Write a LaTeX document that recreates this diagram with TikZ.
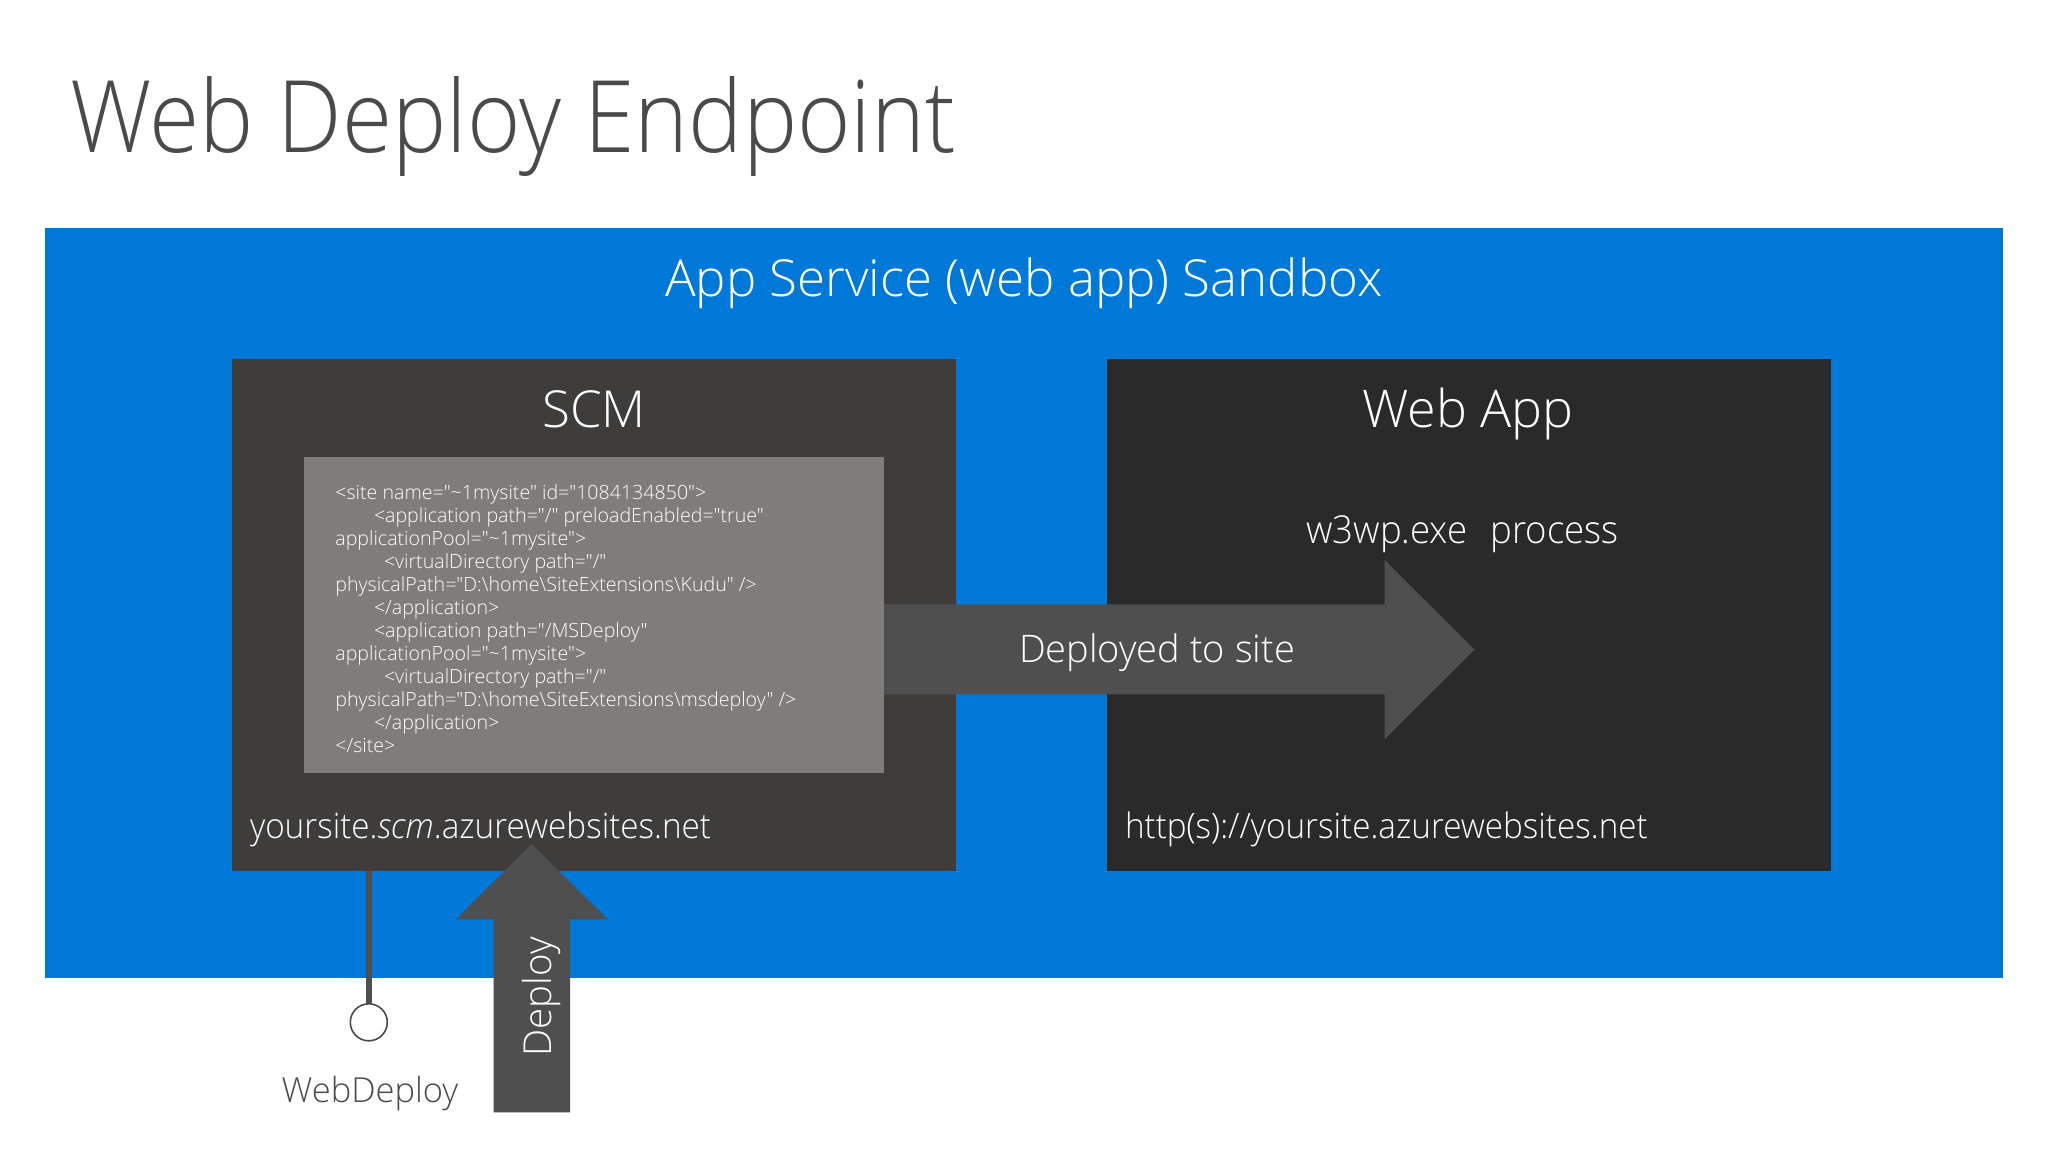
\documentclass[tikz,border=0pt]{standalone}
\usepackage{fontspec}
\setmainfont{Open Sans Light}
\newfontfamily\titlefont{Open Sans Light}[FakeStretch=0.913]
\newfontfamily\narrowfont{Open Sans Light}[FakeStretch=0.95]
\newfontfamily\narrowital{Open Sans Light Italic}[FakeStretch=0.95]
\newfontfamily\codefont{Open Sans Light}
\definecolor{bluebg}{HTML}{0078D7}
\definecolor{scmbg}{HTML}{3E3D3C}
\definecolor{webbg}{HTML}{2B2A2B}
\definecolor{codebg}{HTML}{7F7C7A}
\definecolor{arrowbg}{HTML}{504F50}
\definecolor{inkgray}{HTML}{4A4A4A}
\newcommand{\fs}[1]{\fontsize{#1}{#1}\selectfont}
\tikzset{
  panel/.style={anchor=north west,inner sep=0pt,outer sep=0pt,minimum width=#1},
  lbl/.style={inner sep=0pt,outer sep=0pt,text=white},
  blockarrow/.style={fill=arrowbg,draw=none},
}
\begin{document}
\begin{tikzpicture}[x=1pt,y=-1pt]
\useasboundingbox (0,0) rectangle (2048,1152);
\fill[white] (0,0) rectangle (2048,1152);
\node[lbl,text=inkgray,anchor=base west] (title) at (70,152) {\titlefont\fs{100}Web Deploy Endpoint};
\node[panel=1958pt,minimum height=750pt,fill=bluebg] (sandbox) at (45,228) {};
\node[panel=724pt,minimum height=512pt,fill=scmbg] (scm) at (232,359) {};
\node[panel=724pt,minimum height=512pt,fill=webbg] (webapp) at (1106.5,359) {};
\node[panel=580pt,minimum height=316pt,fill=codebg] (code) at (304,457) {};
\node[lbl,anchor=base] (sandboxlbl) at (1024,296) {\fs{51}App Service (web app) Sandbox};
\node[lbl,anchor=base] (scmlbl) at (594,427) {\fs{51}SCM};
\node[lbl,anchor=base] (weblbl) at (1468,427) {\fs{52}Web App};
\node[lbl,anchor=base] (w3wp) at (1462.5,543.7) {\narrowfont\fs{38.5}w3wp.exe\hspace{0.6em}process};
\node[lbl,anchor=base west] (scmurl) at (250,838) {\narrowfont\fs{35}yoursite.{\narrowital scm}.azurewebsites.net};
\node[lbl,anchor=base west] (weburl) at (1125,838) {\narrowfont\fs{35}http(s)://yoursite.azurewebsites.net};
\node[lbl,anchor=north west,align=left,font=\codefont\fontsize{19.6}{23}\selectfont] (codetxt) at (335.4,485) {<site name="\textasciitilde1mysite" id="1084134850">\\
\hspace*{38.6pt}<application path="/" preloadEnabled="true"\\
applicationPool="\textasciitilde1mysite">\\
\hspace*{48.6pt}<virtualDirectory path="/"\\
physicalPath="D:\textbackslash home\textbackslash SiteExtensions\textbackslash Kudu" />\\
\hspace*{38.6pt}</application>\\
\hspace*{38.6pt}<application path="/MSDeploy"\\
applicationPool="\textasciitilde1mysite">\\
\hspace*{48.6pt}<virtualDirectory path="/"\\
physicalPath="D:\textbackslash home\textbackslash SiteExtensions\textbackslash msdeploy" />\\
\hspace*{38.6pt}</application>\\
</site>};
% deployed arrow
\fill[blockarrow] (code.east |- 0,604.3) -- (1384.7,604.3) -- (1384.7,560) -- (1474.5,649.7) -- (1384.7,739) -- (1384.7,694.3) -- (code.east |- 0,694.3) -- cycle;
\node[lbl,anchor=base] (deployedlbl) at (1157,662.7) {\fs{38}Deployed to site};
% deploy arrow
\fill[blockarrow] (493.7,1112.3) -- (493.7,919.3) -- (456,919.3) -- (531.7,844) -- (607.7,919.3) -- (570,919.3) -- (570,1112.3) -- cycle;
\node[lbl,rotate=90,anchor=base] (deploylbl) at (551.7,997) {\fs{38.5}Deploy};
% web deploy lollipop
\node[circle,draw=inkgray,line width=1.6pt,fill=white,minimum size=37pt,inner sep=0pt] (port) at (368.8,1022.3) {};
\draw[draw=arrowbg,line width=6pt] (port.north |- scm.south) -- (port.north);
\node[lbl,text=inkgray,anchor=base] (portlbl) at (370,1102.7) {\fs{34.5}WebDeploy};
\end{tikzpicture}
\end{document}
